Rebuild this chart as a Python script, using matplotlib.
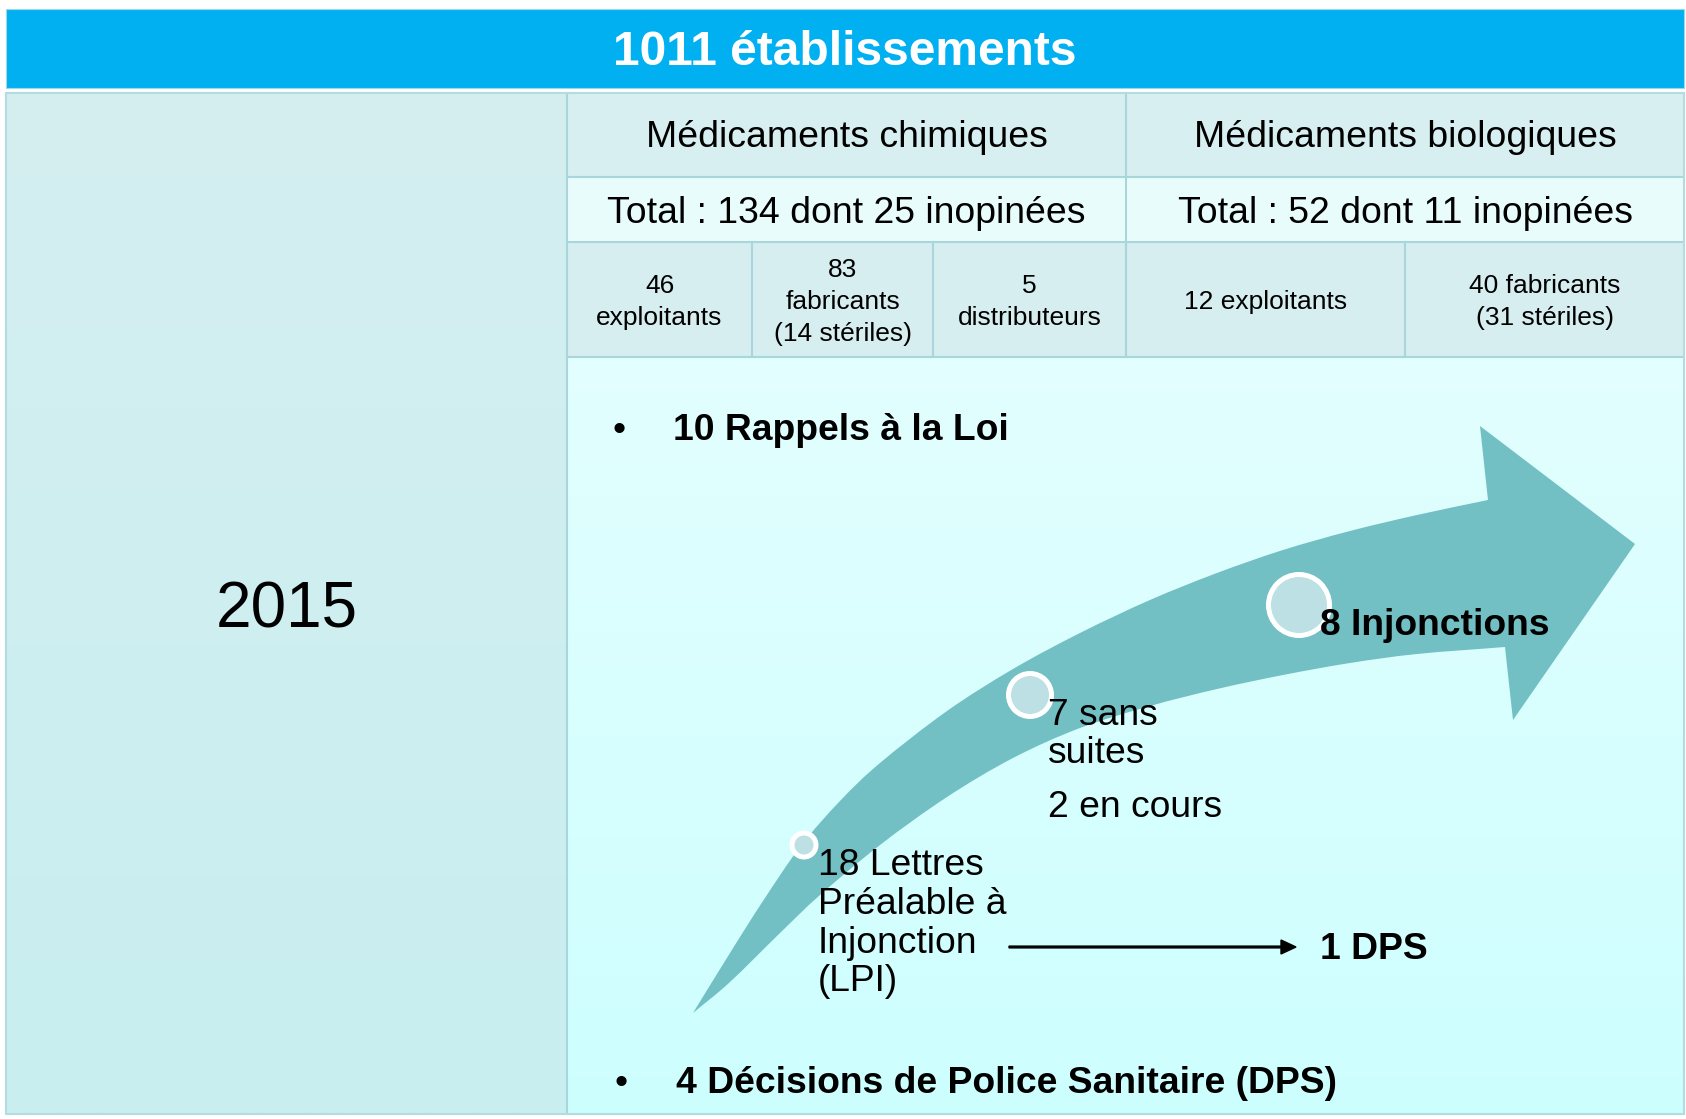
import matplotlib
matplotlib.use("Agg")
import matplotlib.pyplot as plt
from matplotlib.patches import Rectangle, Circle, PathPatch
from matplotlib.path import Path
import numpy as np

plt.rcParams['font.family'] = ['Liberation Sans', 'DejaVu Sans']

# ---------------- data ----------------
title_count = 1011
year = "2015"
families = ["Médicaments chimiques", "Médicaments biologiques"]
family_totals = [134, 52]
family_unannounced = [25, 11]
sub_counts = [46, 83, 5, 12, 40]
sub_kinds = ["exploitants", "fabricants", "distributeurs", "exploitants", "fabricants"]
sub_steriles = [None, 14, None, None, 31]
rappels = 10
dps_total = 4
lpi_count = 18
sans_suites = 7
en_cours = 2
injonctions = 8
dps_from_lpi = 1

# ---------------- figure ----------------
W, H = 1686, 1119
fig = plt.figure(figsize=(W / 100, H / 100), dpi=100)
ax = fig.add_axes([0, 0, 1, 1])
ax.set_xlim(0, W)
ax.set_ylim(H, 0)
ax.axis('off')
fig.patch.set_facecolor('white')

X0, X1 = 6, 1684
HEAD_T, HEAD_B = 9, 88
BODY_T, BODY_B = 93, 1114
SPLIT = 567
ROW = [93, 177, 242, 357]
FAM_SPLIT = 1126
SUB_X = [567, 752, 933, 1126, 1405, 1684]

GRID = '#A9D6DA'
HEADER = '#00B0F0'
ARROW = '#72BFC4'


def vgrad(x0, x1, y0, y1, c_top, c_bot, z=0):
    ct = np.array(matplotlib.colors.to_rgb(c_top))
    cb = np.array(matplotlib.colors.to_rgb(c_bot))
    t = np.linspace(0, 1, 256)[:, None, None]
    img = ct * (1 - t) + cb * t
    ax.imshow(img, extent=(x0, x1, y1, y0), origin='upper', aspect='auto',
              interpolation='bilinear', zorder=z)


# header
ax.add_patch(Rectangle((X0, HEAD_T), X1 - X0, HEAD_B - HEAD_T, facecolor=HEADER,
                       edgecolor='#9ED8E6', lw=0.8, zorder=1))
ax.text((X0 + X1) / 2, 65, f"{title_count} établissements", color='white',
        fontsize=34.5, fontweight='bold', ha='center', va='baseline', zorder=5)

# left panel
vgrad(X0, SPLIT, BODY_T, BODY_B, '#D5EFF1', '#C8EEF0', z=1)
# right rows
ax.add_patch(Rectangle((SPLIT, ROW[0]), X1 - SPLIT, ROW[1] - ROW[0], facecolor='#D7EFF1', lw=0, zorder=1))
ax.add_patch(Rectangle((SPLIT, ROW[1]), X1 - SPLIT, ROW[2] - ROW[1], facecolor='#E9FCFC', lw=0, zorder=1))
ax.add_patch(Rectangle((SPLIT, ROW[2]), X1 - SPLIT, ROW[3] - ROW[2], facecolor='#D6EEF0', lw=0, zorder=1))
vgrad(SPLIT, X1, ROW[3], BODY_B, '#E3FEFE', '#CDFFFF', z=1)

# grid lines
lw_grid = 1.5
for y in ROW[1:]:
    ax.plot([SPLIT, X1], [y, y], color=GRID, lw=lw_grid, zorder=2)
ax.plot([SPLIT, SPLIT], [BODY_T, BODY_B], color=GRID, lw=lw_grid, zorder=2)
ax.plot([FAM_SPLIT, FAM_SPLIT], [ROW[0], ROW[3]], color=GRID, lw=lw_grid, zorder=2)
for x in SUB_X[1:-1]:
    ax.plot([x, x], [ROW[2], ROW[3]], color=GRID, lw=lw_grid, zorder=2)
ax.add_patch(Rectangle((X0, BODY_T), X1 - X0, BODY_B - BODY_T, facecolor='none',
                       edgecolor='#B3DCE0', lw=1.5, zorder=2))

# year
ax.text((X0 + SPLIT) / 2, 628, year, fontsize=46, ha='center', va='baseline', zorder=5)

# family headers
fam_cx = [(SPLIT + FAM_SPLIT) / 2, (FAM_SPLIT + X1) / 2]
for cx, name, tot, ino in zip(fam_cx, families, family_totals, family_unannounced):
    ax.text(cx, 147, name, fontsize=26.9, ha='center', va='baseline', zorder=5)
    ax.text(cx, 223, f"Total : {tot} dont {ino} inopinées", fontsize=26.9,
            ha='center', va='baseline', zorder=5)

# sub cells
split_number = [True, True, True, False, False]
for i, (n, kind, st) in enumerate(zip(sub_counts, sub_kinds, sub_steriles)):
    if split_number[i]:
        lines = [f"{n}", kind]
    else:
        lines = [f"{n} {kind}"]
    if st is not None:
        lines.append(f"({st} stériles)")
    cx = (SUB_X[i] + SUB_X[i + 1]) / 2
    cy = (ROW[2] + ROW[3]) / 2
    step = 32
    start = cy - step * (len(lines) - 1) / 2
    for k, ln in enumerate(lines):
        ax.text(cx, start + k * step + 9.5, ln, fontsize=19.0, ha='center',
                va='baseline', zorder=5)

# bullets
ax.text(619, 440, "•", fontsize=26.8, ha='center', va='baseline', zorder=5)
ax.text(673, 440, f"{rappels} Rappels à la Loi", fontsize=26.8, fontweight='bold',
        ha='left', va='baseline', zorder=5)
ax.text(621, 1093, "•", fontsize=26.8, ha='center', va='baseline', zorder=5)
ax.text(676, 1093, f"{dps_total} Décisions de Police Sanitaire (DPS)", fontsize=26.8,
        fontweight='bold', ha='left', va='baseline', zorder=5)

# ---------------- curved arrow (decorative shape) ----------------
upper_edge = [(693, 1013), (730, 953), (763, 901), (800, 847), (840, 801), (880, 763),
              (947, 711), (1013, 669), (1080, 633), (1150, 600), (1217, 573),
              (1283, 550), (1350, 531), (1417, 515), (1488, 500)]
lower_edge = [(693, 1013), (730, 982), (780, 933), (820, 895), (880, 845), (947, 797),
              (1013, 758), (1080, 728), (1150, 706), (1217, 689), (1283, 675),
              (1350, 663), (1417, 654), (1505, 647)]
head = [(1480, 426), (1635, 544), (1513, 720)]


def catmull(pts):
    p = np.array(pts, dtype=float)
    ext = np.vstack([2 * p[0] - p[1], p, 2 * p[-1] - p[-2]])
    verts, codes = [], []
    for i in range(1, len(ext) - 2):
        p0, p1, p2, p3 = ext[i - 1], ext[i], ext[i + 1], ext[i + 2]
        c1 = p1 + (p2 - p0) / 6
        c2 = p2 - (p3 - p1) / 6
        verts += [tuple(c1), tuple(c2), tuple(p2)]
        codes += [Path.CURVE4] * 3
    return verts, codes


verts = [upper_edge[0]]
codes = [Path.MOVETO]
v, c = catmull(upper_edge)
verts += v
codes += c
for pt in head:
    verts.append(pt)
    codes.append(Path.LINETO)
lower_rev = lower_edge[::-1]
verts.append(lower_rev[0])
codes.append(Path.LINETO)
v, c = catmull(lower_rev)
verts += v
codes += c
verts.append(upper_edge[0])
codes.append(Path.CLOSEPOLY)
ax.add_patch(PathPatch(Path(verts, codes), facecolor=ARROW, edgecolor='none', zorder=3))

# milestone circles
for (cx, cy, r) in [(804, 845, 12), (1030, 695, 21.5), (1299, 605, 30.5)]:
    ax.add_patch(Circle((cx, cy), r, facecolor='#BCE0E3', edgecolor='white', lw=3.6, zorder=4))

# milestone labels
for k, ln in enumerate([f"{lpi_count} Lettres", "Préalable à", "Injonction", "(LPI)"]):
    ax.text(818, [875, 914, 953, 991][k], ln, fontsize=26.8, ha='left', va='baseline', zorder=5)
ax.text(1048, 725, f"{sans_suites} sans", fontsize=26.8, ha='left', va='baseline', zorder=5)
ax.text(1048, 763, "suites", fontsize=26.8, ha='left', va='baseline', zorder=5)
ax.text(1048, 817, f"{en_cours} en cours", fontsize=26.8, ha='left', va='baseline', zorder=5)
ax.text(1320, 635, f"{injonctions} Injonctions", fontsize=26.8, fontweight='bold',
        ha='left', va='baseline', zorder=5)

# LPI -> DPS arrow
ax.arrow(1009, 947, 287, 0, width=1.8, head_width=14, head_length=15,
         length_includes_head=True, color='black', zorder=5)
ax.text(1320, 959, f"{dps_from_lpi} DPS", fontsize=26.8, fontweight='bold',
        ha='left', va='baseline', zorder=5)

fig.savefig("out.png", dpi=100)
